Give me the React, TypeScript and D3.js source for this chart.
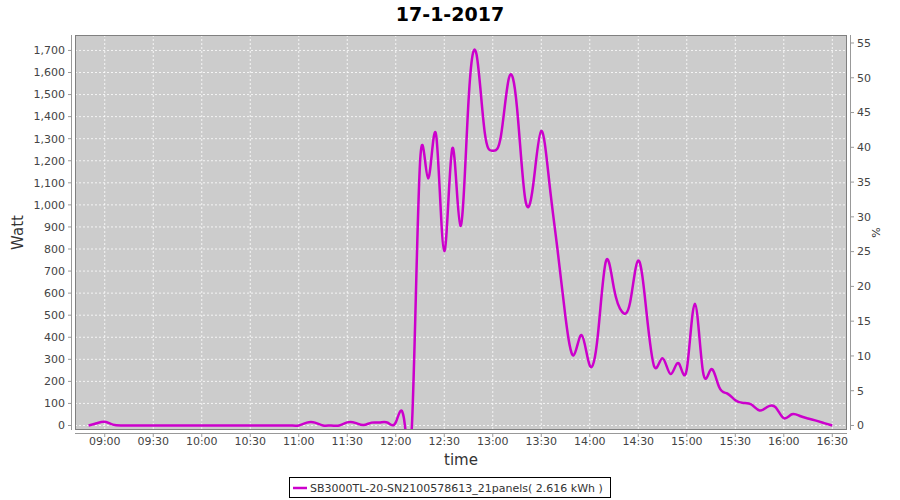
import React from "react";
import * as d3 from "d3";

const title = "17-1-2017";
const seriesName = "SB3000TL-20-SN2100578613_21panels( 2.616 kWh )";

const times = [
  "08:50","08:55","09:00","09:05","09:10","09:15","09:20","09:25","09:30","09:35",
  "09:40","09:45","09:50","09:55","10:00","10:05","10:10","10:15","10:20","10:25",
  "10:30","10:35","10:40","10:45","10:50","10:55","11:00","11:05","11:10","11:15",
  "11:20","11:25","11:30","11:35","11:40","11:45","11:50","11:55","12:00","12:05",
  "12:10","12:15","12:20","12:25","12:30","12:35","12:40","12:45","12:50","12:55",
  "13:00","13:05","13:10","13:15","13:20","13:25","13:30","13:35","13:40","13:45",
  "13:50","13:55","14:00","14:05","14:10","14:15","14:20","14:25","14:30","14:35",
  "14:40","14:45","14:50","14:55","15:00","15:05","15:10","15:15","15:20","15:25",
  "15:30","15:35","15:40","15:45","15:50","15:55","16:00","16:05","16:10","16:15",
  "16:20","16:25","16:30"
];

const watts = [
  0, 10, 17, 4, 0, 0, 0, 0, 0, 0,
  0, 0, 0, 0, 0, 0, 0, 0, 0, 0,
  0, 0, 0, 0, 0, 0, 0, 13, 13, 0,
  0, 0, 14, 12, 2, 13, 14, 13, 14, 35,
  0, 1190, 1120, 1315, 790, 1257, 905, 1470, 1680, 1330,
  1245, 1310, 1575, 1440, 1030, 1090, 1335, 1100, 800, 490,
  318, 410, 272, 410, 745, 620, 515, 560, 748, 520,
  265, 305, 233, 282, 255, 552, 245, 255, 175, 145,
  115, 102, 95, 68, 85, 82, 33, 51, 43, 32,
  22, 11, 0
];

const xTickLabels = ["09:00","09:30","10:00","10:30","11:00","11:30","12:00","12:30","13:00","13:30","14:00","14:30","15:00","15:30","16:00","16:30"];
const leftTicks = [0,100,200,300,400,500,600,700,800,900,1000,1100,1200,1300,1400,1500,1600,1700];
const rightTicks = [0,5,10,15,20,25,30,35,40,45,50,55];

const toMin = (s: string) => {
  const [h, m] = s.split(":").map(Number);
  return h * 60 + m;
};

export default function App() {
  const W = 900, H = 500;
  const L = 75, R = 847, T = 35, B = 430;
  const x = d3.scaleLinear().domain([toMin("08:41") + 0.6, toMin("16:39") + 0.1]).range([L, R]);
  const y = d3.scaleLinear().domain([-20.4, 1770]).range([B, T]);
  const y2 = d3.scaleLinear().domain([-0.65, 56.15]).range([B, T]);
  const pts = times.map((t, i) => [toMin(t), watts[i]] as [number, number]);
  const line = d3.line<[number, number]>().x(d => x(d[0])).y(d => y(d[1])).curve(d3.curveNatural);
  const color = "#cc00cc";
  const font = "DejaVu Sans, sans-serif";
  const tickColor = "#444";
  const axisColor = "#999";
  return (
    <svg width={W} height={H} style={{ display: "block", position: "absolute", left: 0, top: 0 }}>
      <rect x={0} y={0} width={W} height={H} fill="#fff" />
      <text x={450} y={21} textAnchor="middle" fontFamily={font} fontWeight="bold" fontSize={19} fill="#000">{title}</text>
      <defs>
        <clipPath id="plotclip"><rect x={L} y={T} width={R - L} height={B - T} /></clipPath>
      </defs>
      <rect x={L} y={T} width={R - L} height={B - T} fill="#cccccc" />
      {xTickLabels.map(t => (
        <line key={"vg" + t} x1={x(toMin(t))} x2={x(toMin(t))} y1={T} y2={B} stroke="#fff" strokeWidth={0.8} strokeDasharray="2,2" />
      ))}
      {leftTicks.map(v => (
        <line key={"hg" + v} x1={L} x2={R} y1={y(v)} y2={y(v)} stroke="#fff" strokeWidth={0.8} strokeDasharray="2,2" />
      ))}
      <path d={line(pts) || ""} fill="none" stroke={color} strokeWidth={2.5} clipPath="url(#plotclip)" strokeLinejoin="round" />
      <rect x={L + 0.5} y={T + 0.5} width={R - L - 1} height={B - T - 1} fill="none" stroke="#808080" strokeWidth={1} />
      {/* left axis */}
      <line x1={71.5} x2={71.5} y1={T} y2={B} stroke={axisColor} />
      {leftTicks.map(v => (
        <g key={"lt" + v}>
          <line x1={68} x2={71.5} y1={y(v)} y2={y(v)} stroke={axisColor} />
          <text x={65} y={y(v)} dy="0.35em" textAnchor="end" fontFamily={font} fontSize={11} fill={tickColor}>{d3.format(",")(v)}</text>
        </g>
      ))}
      <text transform={`translate(23,${(T + B) / 2}) rotate(-90)`} textAnchor="middle" fontFamily={font} fontSize={15} fill="#333">Watt</text>
      {/* right axis */}
      <line x1={850.5} x2={850.5} y1={T} y2={B} stroke={axisColor} />
      {rightTicks.map(v => (
        <g key={"rt" + v}>
          <line x1={850.5} x2={854} y1={y2(v)} y2={y2(v)} stroke={axisColor} />
          <text x={857} y={y2(v)} dy="0.35em" textAnchor="start" fontFamily={font} fontSize={11} fill={tickColor}>{v}</text>
        </g>
      ))}
      <text transform={`translate(880,${(T + B) / 2}) rotate(-90)`} textAnchor="middle" fontFamily={font} fontSize={11} fill="#333">%</text>
      {/* bottom axis */}
      <line x1={L} x2={R} y1={433.5} y2={433.5} stroke={axisColor} />
      {xTickLabels.map(t => (
        <g key={"xt" + t}>
          <line x1={x(toMin(t))} x2={x(toMin(t))} y1={433.5} y2={437} stroke={axisColor} />
          <text x={x(toMin(t))} y={441} dy="0.35em" textAnchor="middle" fontFamily={font} fontSize={11} fill={tickColor}>{t}</text>
        </g>
      ))}
      <text x={(L + R) / 2} y={465} textAnchor="middle" fontFamily={font} fontSize={15} fill="#333">time</text>
      {/* legend */}
      <rect x={289.5} y={477.5} width={321} height={20} fill="#fff" stroke="#000" />
      <line x1={293} x2={307} y1={488} y2={488} stroke={color} strokeWidth={2.5} />
      <text x={310} y={488} dy="0.35em" fontFamily={font} fontSize={11} fill="#333">{seriesName}</text>
    </svg>
  );
}
